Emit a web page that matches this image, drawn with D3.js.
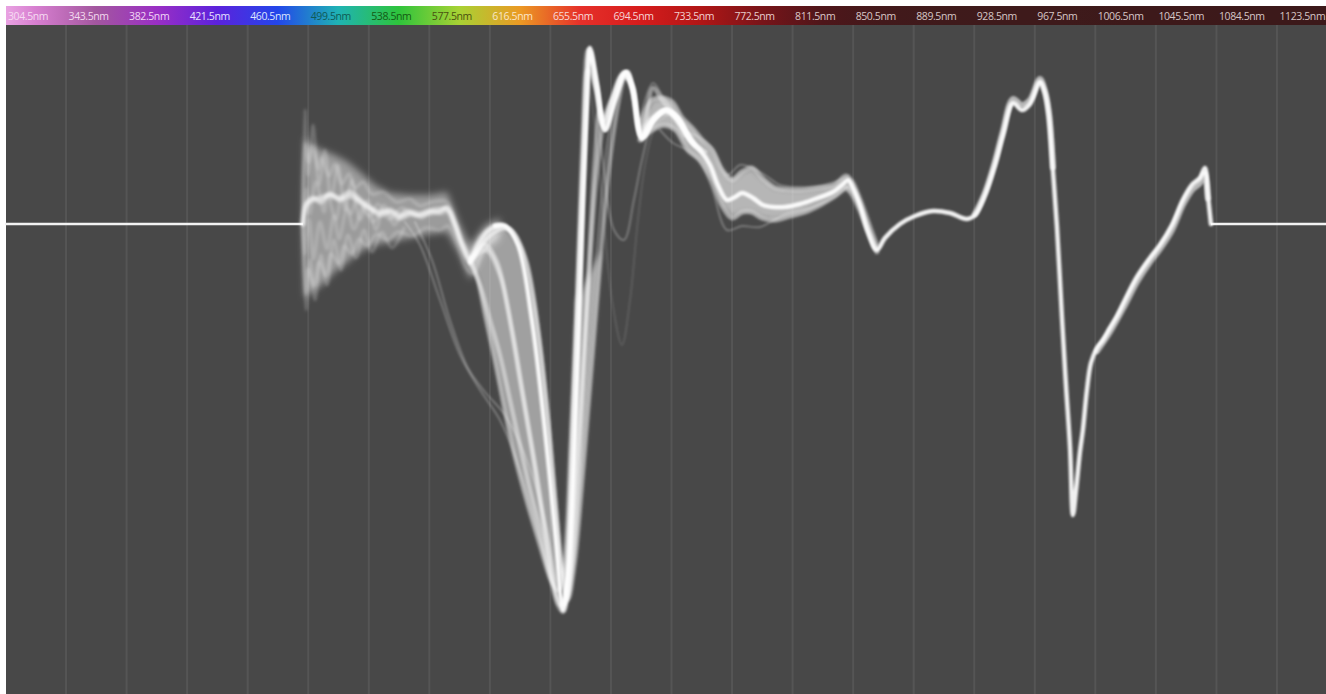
<!DOCTYPE html>
<html>
<head>
<meta charset="utf-8">
<script src="https://cdn.jsdelivr.net/npm/d3@7"></script>
<style>
  html, body { margin: 0; padding: 0; background: #ffffff; overflow: hidden; }
  svg { display: block; }
</style>
</head>
<body>
<svg id="chart" width="1326" height="694"></svg>
<script>
// ---- wavelength bands across the top (centre of each band, nm) ----
const bandCentres = [304.5, 343.5, 382.5, 421.5, 460.5, 499.5, 538.5, 577.5, 616.5, 655.5, 694.5,
                     733.5, 772.5, 811.5, 850.5, 889.5, 928.5, 967.5, 1006.5, 1045.5, 1084.5, 1123.5];
const bandLabels = ["304.5nm", "343.5nm", "382.5nm", "421.5nm", "460.5nm", "499.5nm", "538.5nm",
                    "577.5nm", "616.5nm", "655.5nm", "694.5nm", "733.5nm", "772.5nm", "811.5nm",
                    "850.5nm", "889.5nm", "928.5nm", "967.5nm", "1006.5nm", "1045.5nm", "1084.5nm", "1123.5nm"];

// ---- spectra: [wavelength nm, signal] ----
const flatLeft  = [[285, 0], [476.9, 0]];
const flatRight = [[1061.8, 0], [1135.9, 0]];

const meanTrace = [[476.9,0],[478.9,0.19],[482.7,0.24],[487.9,0.26],[494.3,0.29],[500.8,0.26],[507.2,0.32],
  [513.7,0.24],[520.1,0.16],[526.5,0.09],[533.0,0.12],[539.4,0.06],[545.9,0.10],[552.3,0.08],[558.7,0.11],
  [565.2,0.12],[569.7,0.16],[574.8,-0.01],[579.4,-0.21],[584.5,-0.36],[589.7,-0.21],[595.5,-0.08],[600.6,-0.02],
  [607.0,-0.02],[615.4,-0.21],[624.4,-0.96],[632.8,-2.06],[639.9,-3.16],[644.4,-3.86],[648.3,-3.36],[652.8,-1.76],
  [656.6,-0.06],[659.9,1.24],[661.8,1.76],[666.3,1.39],[671.5,0.94],[677.9,1.24],[685.0,1.52],[689.5,1.36],
  [695.3,0.86],[703.0,1.04],[710.8,1.14],[718.5,1.06],[726.2,0.84],[732.7,0.74],[739.1,0.59],[744.2,0.39],
  [750.0,0.24],[755.2,0.27],[759.7,0.31],[766.8,0.26],[773.2,0.19],[779.7,0.17],[787.4,0.17],[797.1,0.20],
  [806.7,0.25],[818.3,0.32],[824.8,0.40],[828.0,0.44],[831.2,0.36],[835.7,0.19],[840.9,-0.08],[846.6,-0.26],
  [851.8,-0.14],[861.5,0.00],[871.1,0.08],[882.7,0.13],[893.7,0.11],[904.6,0.05],[909.8,0.09],[916.2,0.29],
  [922.6,0.59],[927.8,0.89],[934.3,1.21],[940.0,1.14],[945.2,1.20],[951.6,1.42],[954.8,1.32],[957.4,1.09],
  [960.0,0.54],[962.6,-0.03],[965.8,-0.93],[968.4,-1.61],[971.0,-2.23],[972.9,-2.91],[974.9,-2.66],[977.4,-2.28],
  [979.3,-2.06],[981.9,-1.66],[984.5,-1.39],[988.4,-1.24],[992.2,-1.16],[996.7,-1.04],[1001.3,-0.92],
  [1006.4,-0.76],[1014.1,-0.53],[1022.5,-0.34],[1028.9,-0.21],[1036.7,-0.01],[1043.7,0.24],[1049.5,0.39],
  [1054.7,0.46],[1057.9,0.56],[1059.8,0.29],[1061.8,0]];

// envelope of the noisy onset (blue-green region)
const cloudUpper = [[476.9,0],[478.2,0.86],[482.7,0.79],[489.2,0.74],[497.5,0.69],[505.9,0.62],[513.7,0.52],
  [523.3,0.39],[533.0,0.31],[545.9,0.29],[558.7,0.29],[569.7,0.32],[578.1,-0.01],[584.5,-0.21],[594.2,-0.01],[603.8,0.06]];
const cloudLower = [[476.9,0],[478.2,-0.74],[482.7,-0.68],[489.2,-0.61],[497.5,-0.48],[505.9,-0.38],[513.7,-0.28],
  [523.3,-0.21],[533.0,-0.18],[545.9,-0.14],[558.7,-0.10],[569.7,-0.08],[578.1,-0.31],[584.5,-0.56],[594.2,-0.26],[603.8,-0.16]];

// individual noisy spectra in the same region
const noise1 = [[476.9,0],[478.2,0.80],[480.8,0.62],[483.0,0.78],[486.9,0.55],[488.8,0.66],[493.6,0.48],[497.5,0.60],
  [501.9,0.40],[506.6,0.50],[510.4,0.36],[515.6,0.42],[521.4,0.30],[528.5,0.32],[537.5,0.22],[545.9,0.25],[552.3,0.18],
  [560.0,0.22],[569.7,0.22],[575.5,0.02],[580.0,-0.18],[584.5,-0.28],[591.0,-0.12],[598.7,-0.02],[605.0,0.0]];
const noise2 = [[476.9,0],[478.5,-0.70],[480.2,-0.45],[484.1,-0.62],[487.3,-0.38],[491.8,-0.52],[495.0,-0.30],
  [500.2,-0.40],[503.4,-0.22],[508.5,-0.30],[513.0,-0.15],[518.2,-0.22],[524.6,-0.10],[531.1,-0.16],[538.2,-0.08],
  [547.2,-0.12],[556.1,-0.04],[565.2,-0.06],[570.3,-0.02],[576.1,-0.20],[582.0,-0.44],[586.4,-0.50],[592.2,-0.30],
  [600.0,-0.14],[606.0,-0.08]];
const noise3 = [[476.9,0],[479.0,0.35],[481.1,0.10],[485.3,0.42],[490.5,0.12],[492.4,0.30],[498.2,0.05],[502.0,0.28],
  [507.9,0.10],[511.7,0.26],[519.4,0.08],[525.2,0.20],[532.4,0.05],[540.7,0.16],[549.7,0.08],[557.4,0.14],[566.4,0.10],
  [571.6,0.12],[577.4,-0.12],[583.2,-0.36],[588.4,-0.26],[596.1,-0.06],[604.5,-0.02]];
const noise4 = [[476.9,0],[478.0,-0.30],[480.8,0.05],[483.7,-0.35],[487.9,0.02],[492.4,-0.25],[496.9,0.08],[500.2,-0.15],
  [505.3,0.15],[509.8,-0.05],[516.2,0.18],[522.0,0.02],[529.1,0.14],[536.2,0.04],[544.6,0.14],[553.6,0.06],[561.3,0.16],
  [569.0,0.14],[574.8,-0.04],[580.6,-0.26],[585.1,-0.40],[590.3,-0.24],[597.4,-0.08],[606.0,-0.03]];
const noise5 = [[476.9,0],[479.5,0.20],[483.4,0.26],[488.5,0.22],[494.3,0.30],[500.8,0.24],[507.2,0.28],[513.7,0.22],
  [520.1,0.16],[526.5,0.12],[533.0,0.14],[539.4,0.09],[545.9,0.12],[552.3,0.10],[558.7,0.13],[565.2,0.14],[569.7,0.16],
  [574.8,0.0],[579.4,-0.20],[584.5,-0.33],[589.7,-0.20],[595.5,-0.08],[603.0,-0.03]];
const noise6 = [[476.9,0],[478.2,1.14],[480.2,0.49],[483.4,0.99],[487.3,0.39],[491.1,0.74],[495.0,0.24],[499.5,0.59],
  [504.0,0.14],[508.5,0.44],[513.7,0.04],[518.8,0.24],[524.0,-0.06],[529.1,0.19],[535.6,-0.01],[542.0,0.14]];
const noise7 = [[476.9,0],[478.9,-0.86],[481.5,-0.36],[484.7,-0.76],[488.5,-0.31],[492.4,-0.61],[496.9,-0.16],
  [501.4,-0.46],[505.9,-0.11],[511.1,-0.34],[516.2,-0.06],[521.4,-0.28],[527.8,-0.08],[534.3,-0.24],[542.0,-0.04]];

// individual spectra through the deep orange/red trough
const fanA = [[584.5,-0.38],[591.0,-0.61],[597.4,-0.96],[603.8,-1.31],[610.3,-1.76],[616.7,-2.21],[623.2,-2.66],
  [629.6,-3.06],[636.0,-3.51],[641.2,-3.81],[644.4,-3.88],[647.6,-3.36],[650.8,-1.96],[654.1,-0.46],[657.3,0.94],
  [660.5,1.74],[665.0,1.44],[670.2,0.99],[676.6,1.26],[683.7,1.52],[688.9,1.36],[694.7,0.89],[703.0,1.06],
  [710.8,1.14],[719.8,1.00],[729.4,0.79]];
const fanB = [[584.5,-0.36],[594.2,-0.21],[601.9,-0.38],[609.0,-0.86],[616.7,-1.56],[624.4,-2.26],[631.5,-2.96],
  [637.3,-3.51],[642.5,-3.81],[646.3,-3.76],[649.6,-2.96],[652.8,-1.56],[656.0,-0.06],[659.2,1.14],[661.8,1.72],
  [666.3,1.39],[671.5,0.94],[677.9,1.24],[685.0,1.52],[689.5,1.36],[695.3,0.86],[703.0,1.04],[710.8,1.14],
  [718.5,1.06],[726.2,0.84],[732.7,0.74]];
const fanD = [[584.5,-0.38],[597.4,-0.12],[609.0,-0.04],[618.0,-0.26],[626.4,-0.86],[633.5,-1.76],[639.3,-2.76],
  [643.8,-3.46],[647.6,-3.76],[652.1,-3.36],[657.3,-2.46],[663.1,-1.36],[668.9,-0.26],[674.7,0.64],[679.8,1.19],
  [683.7,1.46],[686.3,1.52],[690.1,1.24],[695.3,0.84],[702.4,1.36],[708.2,1.24],[714.6,1.12],[722.3,0.94],
  [729.4,0.79],[735.9,0.72]];
const fanE = [[584.5,-0.37],[594.8,-0.26],[603.8,-0.51],[611.6,-1.06],[619.3,-1.76],[627.0,-2.46],[634.1,-3.16],
  [639.9,-3.66],[644.4,-3.81],[648.9,-3.46],[654.1,-2.26],[659.9,-0.86],[665.7,0.44],[670.8,1.04],[676.0,1.26],
  [682.4,1.48],[687.6,1.42],[694.0,0.94],[701.7,1.06],[709.5,1.14],[718.5,1.04],[727.5,0.82]];
const fanF = [[584.5,-0.39],[598.7,-0.10],[610.3,-0.06],[620.6,-0.36],[628.3,-1.06],[634.8,-1.96],[639.9,-2.86],
  [643.8,-3.51],[647.0,-3.74],[651.5,-3.16],[656.0,-1.96],[660.5,-0.56],[665.0,0.64],[668.2,1.14],[670.8,1.04],
  [676.0,1.26],[683.1,1.50],[688.9,1.38],[694.7,0.88],[703.0,1.06],[710.8,1.14],[719.8,1.02],[729.4,0.79]];
const fanG = [[584.5,-0.34],[589.7,-0.56],[594.8,-0.94],[600.6,-1.36],[607.0,-1.86],[614.1,-2.36],[621.9,-2.81],
  [629.6,-3.21],[636.7,-3.56],[641.2,-3.66],[645.7,-3.36],[649.6,-2.16],[653.4,-0.76],[657.3,0.64],[660.5,1.54],
  [665.7,1.34],[670.8,0.99],[677.3,1.28],[683.7,1.50],[688.9,1.34],[695.3,0.90],[704.3,1.08],[713.3,1.10],[723.0,0.89]];

// sparse outlying spectra
const strayA = [[542.6,0.02],[552.3,-0.21],[565.2,-0.76],[578.1,-1.31],[591.0,-1.66],[603.8,-1.96],[616.7,-2.46],
  [629.6,-3.16],[639.3,-3.68],[645.7,-3.88],[650.2,-3.21],[655.4,-1.26],[659.2,0.74],[661.8,1.64],[666.3,1.36],[671.5,0.94]];
const strayB = [[549.1,0.02],[560.0,-0.36],[571.6,-0.96],[583.2,-1.44],[594.2,-1.68],[607.0,-1.91],[619.9,-2.31],
  [632.8,-2.96],[641.2,-3.61],[646.3,-3.81],[651.5,-3.36],[657.9,-1.96],[665.7,-0.36],[673.4,0.84],[679.8,1.32],
  [685.0,1.46],[690.1,1.20],[695.3,0.84]];
const strayC = [[658.6,1.64],[663.7,1.14],[669.5,0.24],[676.0,-0.76],[682.4,-1.21],[687.6,-0.76],[692.7,0.04],
  [697.9,0.64],[704.3,0.99],[712.0,1.09]];
const strayD = [[660.5,1.74],[665.7,1.24],[670.8,0.54],[677.3,-0.06],[683.7,-0.16],[690.1,0.24],[695.3,0.64],
  [701.7,0.99],[709.5,1.12]];

// spread of the spectra through the near-infrared part
const upperNir = [[694.0,0.99],[701.7,1.24],[708.2,1.26],[714.6,1.22],[721.1,1.06],[727.5,0.96],[733.9,0.84],
  [740.4,0.74],[746.8,0.54],[753.3,0.44],[759.7,0.52],[766.1,0.56],[772.6,0.46],[781.0,0.36],[790.6,0.34],
  [800.3,0.34],[809.9,0.36],[819.6,0.39],[826.7,0.48],[830.6,0.42],[835.7,0.24],[842.2,-0.04],[846.6,-0.22]];
const lowerNir = [[694.0,0.84],[701.7,0.94],[709.5,0.99],[717.2,0.94],[724.9,0.74],[732.7,0.64],[740.4,0.44],
  [746.8,0.19],[753.3,0.06],[759.7,0.12],[766.1,0.12],[772.6,0.06],[781.0,0.04],[790.6,0.08],[800.3,0.12],
  [809.9,0.19],[819.6,0.28],[826.7,0.36],[830.6,0.30],[835.7,0.14],[842.2,-0.12],[846.6,-0.28]];
const lowOutlier = [[706.9,0.94],[715.3,0.81],[724.3,0.74],[732.7,0.62],[740.4,0.36],[750.0,-0.06],[759.7,-0.02],
  [771.3,-0.03],[788.7,0.11],[803.5,0.16],[818.3,0.26],[828.0,0.38]];
const highOutlier = [[694.0,1.04],[702.4,1.41],[708.2,1.29],[714.6,1.16],[723.0,0.94],[732.7,0.86],[740.4,0.76],
  [750.0,0.49],[758.4,0.59],[764.9,0.57],[774.5,0.49],[784.2,0.39],[795.1,0.37],[809.9,0.38],[822.8,0.44],[828.0,0.48]];
const peakSide = [[909.8,0.10],[916.2,0.31],[922.6,0.62],[927.8,0.93],[934.3,1.25],[940.0,1.19],[945.2,1.24],
  [951.6,1.45],[954.8,1.33],[957.4,1.11],[960.0,0.57]];
const tailSide = [[988.4,-1.27],[996.7,-1.08],[1006.4,-0.81],[1014.1,-0.58],[1022.5,-0.38],[1028.9,-0.25],
  [1036.7,-0.06],[1043.7,0.19],[1049.5,0.34],[1054.7,0.41],[1057.9,0.50],[1059.8,0.26]];

// ---- styling (kept apart from the data) ----
const stripColors = ["#d77fd0", "#a3579f", "#9a2fc4", "#5c22dc", "#2346ea", "#1fb3b4", "#2ec43c", "#a8d234",
  "#eb9a24", "#e6302a", "#d61c1c", "#b01616", "#781419", "#4e161a", "#42191b", "#3f1a1b", "#3e1a1b", "#3e1a1b",
  "#3d191a", "#3d191a", "#3c191a", "#3c191a"];
const labelInk = ["#f6dcf2", "#f2d8ee", "#f2d6f6", "#e8e2ff", "#dde6ff", "#0f5a55", "#145a14", "#4a5010",
  "#fbe6c8", "#f8d8d8", "#f6d4d4", "#f2d0d0", "#e8cccc", "#dcc8c8", "#d8c6c6", "#d6c6c6", "#d6c6c6", "#d6c6c6",
  "#d6c6c6", "#d6c6c6", "#d6c6c6", "#d6c6c6"];

const W = 1326, H = 694;
const left = 5, stripTop = 6, stripBottom = 25;
const svg = d3.select("#chart");

const x = d3.scaleLinear().domain([285, 1135.9]).range([left, W]);
const y = d3.scaleLinear().domain([-4.70, 1.99]).range([H, stripBottom]);

const defs = svg.append("defs");
function blurFilter(id, sd) {
  defs.append("filter").attr("id", id)
    .attr("x", "-10%").attr("y", "-10%").attr("width", "120%").attr("height", "120%")
    .append("feGaussianBlur").attr("stdDeviation", sd);
}
blurFilter("soft", 1.1);
blurFilter("haze", 1.8);
blurFilter("mist", 2.4);
blurFilter("fog", 3.5);

// plot background
svg.append("rect").attr("x", 6).attr("y", stripBottom).attr("width", W - 6).attr("height", H - stripBottom)
  .attr("fill", "#484848");

// band boundaries as vertical grid lines
const boundaries = bandCentres.slice(0, -1).map(c => c + 19.5);
const grid = svg.append("g").attr("transform", `translate(0,${H})`)
  .call(d3.axisBottom(x).tickValues(boundaries).tickSize(-(H - stripBottom)).tickFormat(""));
grid.select(".domain").remove();
grid.selectAll(".tick line").attr("stroke", "#555555").attr("stroke-width", 2);

// spectral colour strip
const grad = defs.append("linearGradient").attr("id", "spectrum")
  .attr("gradientUnits", "userSpaceOnUse").attr("x1", 6).attr("x2", W).attr("y1", 0).attr("y2", 0);
grad.append("stop").attr("offset", 0).attr("stop-color", "#e9a2e2");
bandCentres.forEach((c, i) => {
  grad.append("stop").attr("offset", (x(c) - 6) / (W - 6)).attr("stop-color", stripColors[i]);
});
svg.append("rect").attr("x", 6).attr("y", stripTop).attr("width", W - 6).attr("height", stripBottom - stripTop)
  .attr("fill", "url(#spectrum)");

svg.append("g").selectAll("text").data(bandLabels).join("text")
  .attr("x", (d, i) => x(bandCentres[i] - 19.5) + 3)
  .attr("y", 16)
  .attr("dominant-baseline", "central")
  .attr("font-family", "'Open Sans', 'DejaVu Sans', sans-serif")
  .attr("font-size", 10.5)
  .attr("letter-spacing", -0.4)
  .attr("fill", (d, i) => labelInk[i])
  .text(d => d);

// spectra
const line = d3.line().x(d => x(d[0])).y(d => y(d[1])).curve(d3.curveCatmullRom.alpha(0.5));
const straight = d3.line().x(d => x(d[0])).y(d => y(d[1]));
const outline = d3.line().x(d => x(d[0])).y(d => y(d[1])).curve(d3.curveLinearClosed);

function draw(group, series, width, opacity) {
  group.selectAll(null).data(series).join("path")
    .attr("d", line)
    .attr("fill", "none")
    .attr("stroke", "#ffffff")
    .attr("stroke-width", width)
    .attr("stroke-opacity", opacity)
    .attr("stroke-linejoin", "round")
    .attr("stroke-linecap", "round");
}
function fillBetween(group, a, b, opacity) {
  group.append("path")
    .attr("d", outline(a.concat(b.slice().reverse())))
    .attr("fill", "#ffffff")
    .attr("fill-opacity", opacity);
}

svg.append("g").selectAll("path").data([flatLeft, flatRight]).join("path")
  .attr("d", straight).attr("fill", "none").attr("stroke", "#f2f2f2").attr("stroke-width", 2.5);

// hazy bands behind the individual spectra
const fog = svg.append("g").attr("filter", "url(#fog)");
fillBetween(fog, cloudUpper, cloudLower, 0.45);

const mist = svg.append("g").attr("filter", "url(#mist)");
fillBetween(mist, fanG.filter(d => d[0] <= 653.4), fanD.filter(d => d[0] <= 668.9), 0.48);
fillBetween(mist, upperNir, lowerNir, 0.6);

const cloud = svg.append("g").attr("filter", "url(#haze)");
draw(cloud, [noise6, noise7], 3, 0.22);
draw(cloud, [noise1, noise2, noise3, noise4], 3.5, 0.2);
draw(cloud, [noise5, meanTrace.filter(d => d[0] <= 607)], 5, 0.5);

const spread = svg.append("g").attr("filter", "url(#soft)");
draw(spread, [strayC], 1.5, 0.14);
draw(spread, [lowOutlier, highOutlier, strayA, strayB, strayD], 2, 0.26);
draw(spread, [upperNir, lowerNir], 5, 0.4);
draw(spread, [peakSide, tailSide], 6, 0.6);
draw(spread, [fanA, fanB, fanD, fanE, fanF, fanG], 4.5, 0.42);

const core = svg.append("g").attr("filter", "url(#soft)");
draw(core, [meanTrace.filter(d => d[0] >= 600.6)], 4.5, 0.92);
</script>
</body>
</html>
